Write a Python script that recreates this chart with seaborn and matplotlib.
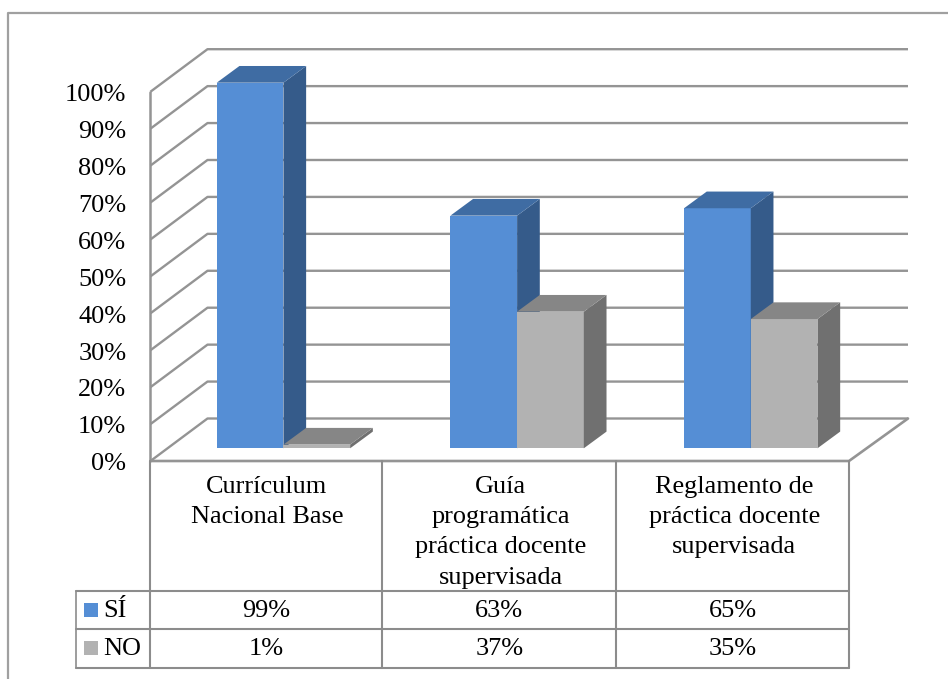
import matplotlib
matplotlib.use("Agg")
import matplotlib.pyplot as plt
import matplotlib.transforms as mtrans
import pandas as pd
import seaborn as sns
from matplotlib.patches import Rectangle

# Data
categories = ["Currículum\nNacional Base",
              "Guía\nprogramática\npráctica docente\nsupervisada",
              "Reglamento de\npráctica docente\nsupervisada"]
si_values = [99, 63, 65]
no_values = [1, 37, 35]
y_ticks = list(range(0, 101, 10))

BLUE = ["#558ED5", "#355B8A", "#3F6CA3"]   # front, side, top
GREY = ["#B2B2B2", "#707070", "#868686"]
LINE = "#949494"

df = pd.DataFrame({
    "categoria": categories * 2,
    "valor": si_values + no_values,
    "serie": ["SÍ"] * 3 + ["NO"] * 3,
})

sns.set_theme(style="white")
plt.rcParams["font.family"] = ["Liberation Serif", "DejaVu Serif"]
FS = 18.9

W, H = 948, 679
fig = plt.figure(figsize=(W / 100, H / 100), dpi=100, facecolor="white")

# pixel layer for frame, walls and data table
frame = fig.add_axes([0, 0, 1, 1], zorder=0)
frame.set_xlim(0, W)
frame.set_ylim(H, 0)
frame.axis("off")

# bar plane sits inside the 3D box, in front of it is the axis plane
PLANE_L, PLANE_R, PLANE_Y0, PLANE_H = 166.6, 867.6, 448.3, 369.3
ax = fig.add_axes([PLANE_L / W, 1 - PLANE_Y0 / H, (PLANE_R - PLANE_L) / W, PLANE_H / H], zorder=2)
ax.patch.set_visible(False)

sns.barplot(data=df, x="categoria", y="valor", hue="serie", hue_order=["SÍ", "NO"],
            palette={"SÍ": BLUE[0], "NO": GREY[0]}, width=0.571, gap=0, saturation=1,
            legend=False, ax=ax)
ax.set_xlim(-0.5, 2.5)
ax.set_ylim(0, 100)
sns.despine(ax=ax, left=True, bottom=True)
ax.set_xlabel("")
ax.set_ylabel("")

# depth of the bars
px_x = (PLANE_R - PLANE_L) / 3
px_y = PLANE_H / 100
dx, dy = 22.7 / px_x, 16.7 / px_y
bars = [p for p in ax.patches]
for i, bar in enumerate(bars):
    cols = BLUE if i < 3 else GREY
    z = 3 if i < 3 else 4
    x0, x1 = bar.get_x(), bar.get_x() + bar.get_width()
    top = bar.get_height()
    bar.set_zorder(z)
    bar.set_linewidth(0)
    ax.fill([x1, x1 + dx, x1 + dx, x1], [0, dy, top + dy, top], color=cols[1], lw=0, zorder=z, clip_on=False)
    ax.fill([x0, x1, x1 + dx, x0 + dx], [top, top, top + dy, top + dy], color=cols[2], lw=0, zorder=z, clip_on=False)

# tick labels moved onto the front plane of the box
FRONT_L, FRONT_R, FRONT_Y0 = 150.5, 849, 461
ax.set_yticks(y_ticks)
ax.set_yticklabels([f"{t}%" for t in y_ticks], fontsize=FS, color="black")
ax.set_xticks(range(3))
ax.set_xticklabels(categories, fontsize=FS, color="black", linespacing=1.49)
ax.tick_params(axis="y", length=0, pad=17)
ax.tick_params(axis="x", length=0, pad=10.5)
shift_y = mtrans.Affine2D().translate(-16.6, -13.5)
shift_x = mtrans.Affine2D().translate(-16.6, -12.7)
for lab in ax.get_yticklabels():
    lab.set_transform(lab.get_transform() + shift_y)
for lab in ax.get_xticklabels():
    lab.set_transform(lab.get_transform() + shift_x)

# walls, gridlines
BACK_DX, BACK_DY = 57, 42.5
BACK_R = 908
for t in y_ticks:
    y = FRONT_Y0 - t * px_y
    frame.plot([FRONT_L, FRONT_L + BACK_DX, BACK_R], [y, y - BACK_DY, y - BACK_DY], color=LINE, lw=1.7, solid_capstyle="butt")
frame.plot([FRONT_L, FRONT_L], [FRONT_Y0, FRONT_Y0 - 100 * px_y], color=LINE, lw=1.8)
frame.plot([FRONT_L, FRONT_R, BACK_R], [FRONT_Y0, FRONT_Y0, FRONT_Y0 - BACK_DY], color=LINE, lw=1.9)

# outer border of the chart area
frame.plot([8, 8, W], [H, 13, 13], color="#a0a0a0", lw=1.6)

# data table
col_edges = [150.5, 382.5, 616, 849]
row_edges = [591, 629, 667.5]
TBL_L = 76
for x in col_edges:
    frame.plot([x, x], [FRONT_Y0, row_edges[-1]], color="#8c8c8c", lw=1.5)
for y in row_edges:
    frame.plot([TBL_L, col_edges[-1]], [y, y], color="#8c8c8c", lw=1.5)
frame.plot([TBL_L, TBL_L], [row_edges[0], row_edges[-1]], color="#8c8c8c", lw=1.2)

rows = [("SÍ", si_values, BLUE[0]), ("NO", no_values, GREY[0])]
for r, (name, vals, col) in enumerate(rows):
    yc = (row_edges[r] + row_edges[r + 1]) / 2
    frame.add_patch(Rectangle((84, yc - 7), 14, 14, color=col, lw=0))
    frame.text(103.5, yc + 1, name, fontsize=FS, ha="left", va="center", color="black")
    for c, v in enumerate(vals):
        xc = (col_edges[c] + col_edges[c + 1]) / 2
        frame.text(xc, yc + 1, f"{v}%", fontsize=FS, ha="center", va="center", color="black")

fig.savefig("out.png", dpi=100)
